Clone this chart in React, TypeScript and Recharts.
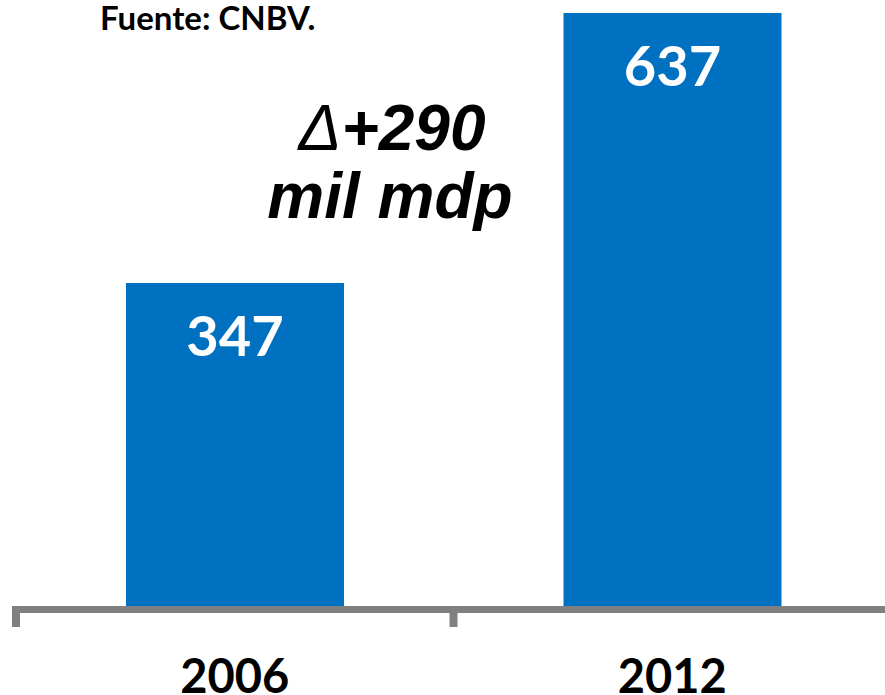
import { BarChart, Bar, XAxis, YAxis, LabelList } from "recharts";

// Cartera de crédito (miles de millones de pesos)
const years = ["2006", "2012"];
const values = [347, 637];
const deltaLabel = "+290";
const unitLabel = "mil mdp";
const sourceNote = "Fuente: CNBV.";

const data = years.map((year, i) => ({ year, value: values[i] }));

const BLUE = "#0070C0";
const GRAY = "#808080";
const CHART_W = 900;
const CHART_H = 695;
const MARGIN = { top: 13, right: 9, left: 16, bottom: 0 };
const BAND = (CHART_W - MARGIN.left - MARGIN.right) / years.length;
const CALIBRI = "Lato, 'Open Sans', sans-serif";

// axis segment + boundary tick drawn per category, label centered in band
function YearTick(props: any) {
  const { x, y, payload } = props;
  const half = BAND / 2;
  return (
    <g>
      <rect x={x - half} y={y} width={BAND} height={7} fill={GRAY} />
      <rect x={x - half - 4} y={y} width={8} height={21} fill={GRAY} />
      <text
        x={x}
        y={y + 87}
        textAnchor="middle"
        fontFamily={CALIBRI}
        fontWeight={700}
        fontSize={47}
        fill="#000"
      >
        {payload.value}
      </text>
    </g>
  );
}

function ValueLabel(props: any) {
  const { x, y, width, value } = props;
  return (
    <text
      x={x + width / 2}
      y={y + 73}
      textAnchor="middle"
      fontFamily={CALIBRI}
      fontWeight={700}
      fontSize={56}
      fill="#fff"
    >
      {value}
    </text>
  );
}

export default function App() {
  return (
    <div
      style={{
        position: "absolute",
        left: 0,
        top: 0,
        width: 885,
        height: 695,
        overflow: "hidden",
        background: "#fff",
      }}
    >
      <BarChart width={CHART_W} height={CHART_H} data={data} margin={MARGIN}>
        <YAxis hide domain={[0, 637]} />
        <XAxis
          dataKey="year"
          height={89}
          axisLine={false}
          tickLine={false}
          tickSize={0}
          tickMargin={0}
          interval={0}
          tick={<YearTick />}
        />
        <Bar dataKey="value" fill={BLUE} barSize={218} isAnimationActive={false}>
          <LabelList dataKey="value" content={<ValueLabel />} />
        </Bar>
      </BarChart>
      <svg
        width={885}
        height={695}
        style={{ position: "absolute", left: 0, top: 0, pointerEvents: "none" }}
      >
        <text
          x={100}
          y={30}
          fontFamily={CALIBRI}
          fontWeight={700}
          fontSize={33}
          fill="#000"
        >
          {sourceNote}
        </text>
        <text
          x={392}
          y={150}
          textAnchor="middle"
          fontFamily="'Liberation Sans', Arial, sans-serif"
          fontWeight={700}
          fontStyle="italic"
          fontSize={64}
          fill="#000"
        >
          <tspan fontWeight={400}>Δ</tspan>
          {deltaLabel}
        </text>
        <text
          x={390}
          y={218}
          textAnchor="middle"
          fontFamily="'Liberation Sans', Arial, sans-serif"
          fontWeight={700}
          fontStyle="italic"
          fontSize={64}
          fill="#000"
        >
          {unitLabel}
        </text>
      </svg>
    </div>
  );
}
